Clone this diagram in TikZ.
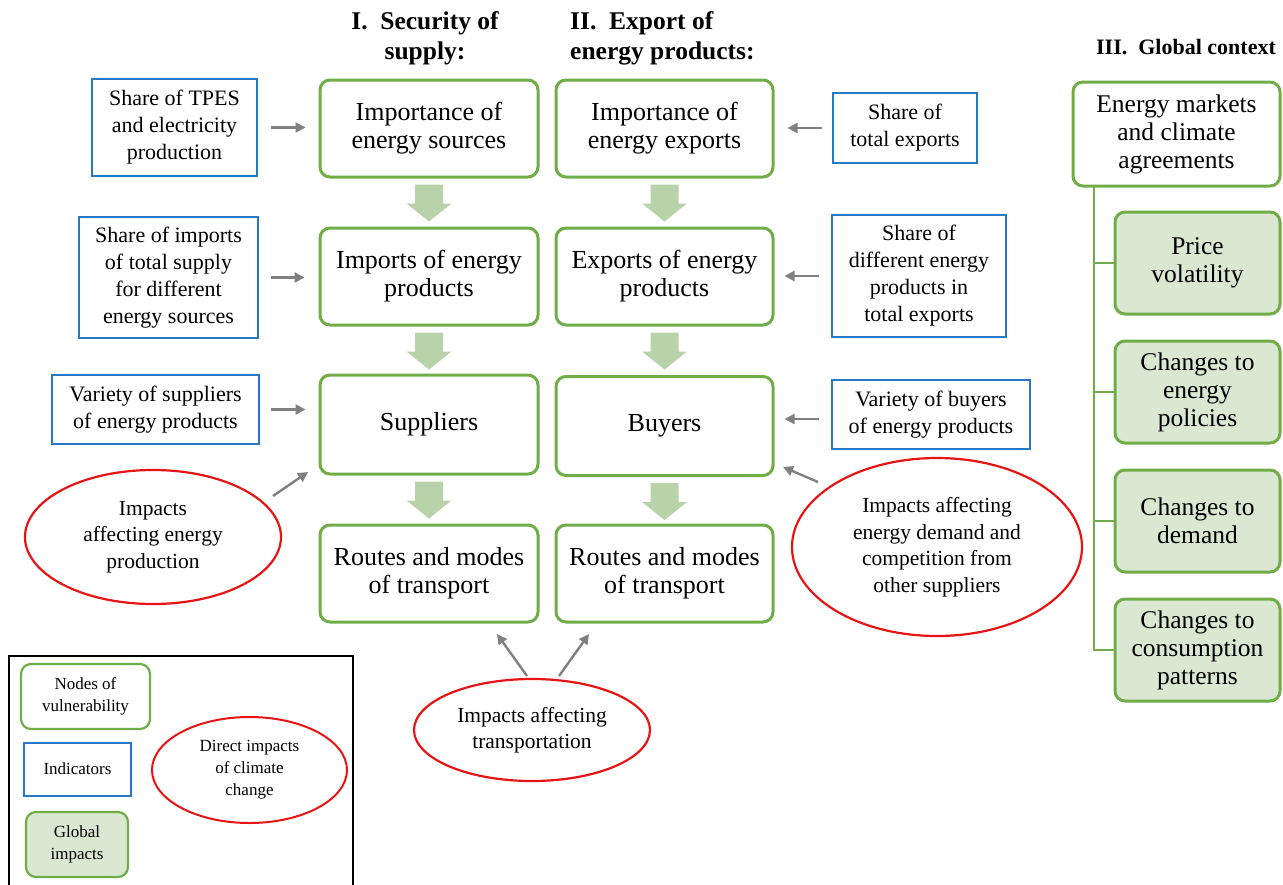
\documentclass[tikz,border=0pt]{standalone}
\usepackage{fontspec}
\setmainfont{Liberation Serif}
\usetikzlibrary{shapes.geometric,arrows.meta,calc}
\definecolor{vgreen}{RGB}{112,173,71}
\definecolor{lgreen}{RGB}{218,232,210}
\definecolor{agreen}{RGB}{184,211,170}
\definecolor{iblue}{RGB}{40,120,200}
\definecolor{ired}{RGB}{232,20,20}
\definecolor{agray}{RGB}{128,128,128}
\tikzset{
  vnode/.style={draw=vgreen, line width=3pt, rounded corners=10pt, align=center, inner sep=0pt, fill=white,
    font=\fontsize{26}{28}\selectfont},
  gctx/.style={vnode, font=\fontsize{25.5}{28}\selectfont},
  gnode/.style={gctx, fill=lgreen},
  ibox/.style={draw=iblue, line width=2.2pt, align=center, inner sep=0pt,
    font=\fontsize{22}{27}\selectfont},
  impact/.style={draw=ired, line width=2.2pt, ellipse, align=center, inner sep=0pt,
    font=\fontsize{21.5}{26.5}\selectfont},
  garrow/.style={draw=agray, line width=2.4pt, -{Triangle[length=10pt,width=10pt]}},
  hdr/.style={font=\fontsize{25.5}{30}\selectfont\bfseries, align=center, inner sep=0pt},
  leg/.style={font=\fontsize{17}{22}\selectfont},
  tree/.style={draw=vgreen, line width=2.5pt},
  dnarrow/.pic={\fill[agreen] (-14,0) -- (14,0) -- (14,19) -- (22.5,19) -- (0,37) -- (-22.5,19) -- (-14,19) -- cycle;}
}
\begin{document}
\begin{tikzpicture}[x=1pt,y=-1pt]
\useasboundingbox (0,0) rectangle (1283,884);

% headers
\node[hdr] (h1) at (425,38) {I.\ \ Security of\\ supply:};
\node[hdr, align=left, anchor=west] (h2) at (570,38) {II.\ \ Export of\\energy products:};
\node[hdr, font=\fontsize{22}{26}\selectfont\bfseries] (h3) at (1186,47) {III.\ \ Global context};

% column I
\node[vnode, minimum width=218, minimum height=97] (c1a) at (429,128.5) {Importance of\\energy sources};
\node[vnode, minimum width=218, minimum height=97] (c1b) at (429,276.5) {Imports of energy\\products};
\node[vnode, minimum width=218, minimum height=99] (c1c) at (429,424.5) {Suppliers};
\node[vnode, minimum width=218, minimum height=97] (c1d) at (429,573.5) {Routes and modes\\of transport};

% column II
\node[vnode, minimum width=217, minimum height=97] (c2a) at (664.5,128.5) {Importance of\\energy exports};
\node[vnode, minimum width=217, minimum height=97] (c2b) at (664.5,276.5) {Exports of energy\\products};
\node[vnode, minimum width=217, minimum height=99] (c2c) at (664.5,426) {Buyers};
\node[vnode, minimum width=217, minimum height=97] (c2d) at (664.5,573.5) {Routes and modes\\of transport};

% block arrows
\pic at ($(c1a.south)+(0,6)$) {dnarrow};
\pic at ($(c1b.south)+(0,6)$) {dnarrow};
\pic at ($(c1c.south)+(0,6)$) {dnarrow};
\pic at ($(c2a.south)+(0,6)$) {dnarrow};
\pic at ($(c2b.south)+(0,6)$) {dnarrow};
\pic at ($(c2c.south)+(0,6)$) {dnarrow};

% indicators
\node[ibox, minimum width=165, minimum height=97] (b1) at (174.5,127.5) {Share of TPES\\and electricity\\production};
\node[ibox, minimum width=179, minimum height=121] (b2) at (168.5,277.5) {Share of imports\\of total supply\\for different\\energy sources};
\node[ibox, minimum width=207, minimum height=69] (b3) at (155.5,409.5) {Variety of suppliers\\of energy products};
\node[ibox, minimum width=144, minimum height=70] (b4) at (905,128) {Share of\\total exports};
\node[ibox, minimum width=174, minimum height=122] (b5) at (919,276) {Share of\\different energy\\products in\\total exports};
\node[ibox, minimum width=198, minimum height=69] (b6) at (931,414.5) {Variety of buyers\\of energy products};

\draw[garrow, shorten <=13pt, shorten >=13pt] (b1.east) -- (b1.east -| c1a.west);
\draw[garrow, shorten <=12pt, shorten >=14pt] (b2.east) -- (b2.east -| c1b.west);
\draw[garrow, shorten <=11pt, shorten >=13pt] (b3.east) -- (b3.east -| c1c.west);
\draw[garrow, shorten <=10pt, shorten >=13pt] (b4.west) -- (b4.west -| c2a.east);
\draw[garrow, shorten <=12pt, shorten >=10pt] (b5.west) -- (b5.west -| c2b.east);
\draw[garrow, shorten <=12pt, shorten >=10pt] (b6.west |- 0,419) -- (c2c.east |- 0,419);

% impacts
\node[impact, minimum width=256, minimum height=134] (e1) at (153,537) {Impacts\\affecting energy\\production};
\node[impact, minimum width=290, minimum height=178] (e2) at (937,547) {Impacts affecting\\energy demand and\\competition from\\other suppliers};
\node[impact, minimum width=236, minimum height=102] (e3) at (532,730) {Impacts affecting\\transportation};

\coordinate (e1t) at (273,496);
\coordinate (c1cin) at (308,472);
\coordinate (e2t) at (818,482);
\coordinate (c2cin) at (783,467);
\coordinate (e3l) at (527,676);
\coordinate (c1din) at (497,634);
\coordinate (e3r) at (559,676);
\coordinate (c2din) at (589,634);
\draw[garrow] (e1t) -- (c1cin);
\draw[garrow] (e2t) -- (c2cin);
\draw[garrow] (e3l) -- (c1din);
\draw[garrow] (e3r) -- (c2din);

% global context
\node[gctx, minimum width=207, minimum height=104] (g0) at (1176.5,134) {Energy markets\\and climate\\agreements};
\node[gnode, minimum width=165, minimum height=102] (g1) at (1197.5,263) {Price\\volatility};
\node[gnode, minimum width=165, minimum height=102] (g2) at (1197.5,392) {Changes to\\energy\\policies};
\node[gnode, minimum width=165, minimum height=102] (g3) at (1197.5,521) {Changes to\\demand};
\node[gnode, minimum width=165, minimum height=102] (g4) at (1197.5,650) {Changes to\\consumption\\patterns};
\coordinate (gtop) at (1094,186);
\draw[tree] (gtop) -- (gtop |- g4.west) -- (g4.west);
\draw[tree] (gtop |- g1.west) -- (g1.west);
\draw[tree] (gtop |- g2.west) -- (g2.west);
\draw[tree] (gtop |- g3.west) -- (g3.west);

% legend
\draw[black, line width=2pt] (9,656) rectangle (353,900);
\node[vnode, leg, line width=2.2pt, minimum width=129, minimum height=65] (l1) at (85.5,696.5) {Nodes of\\vulnerability};
\node[ibox, leg, line width=2pt, minimum width=107, minimum height=53] (l2) at (77.5,769) {Indicators};
\node[gnode, leg, line width=2.2pt, minimum width=102, minimum height=65] (l3) at (77,844.5) {Global\\impacts};
\node[impact, leg, line width=2pt, minimum width=195, minimum height=106] (l4) at (249.5,770) {Direct impacts\\of climate\\change};
\end{tikzpicture}
\end{document}
